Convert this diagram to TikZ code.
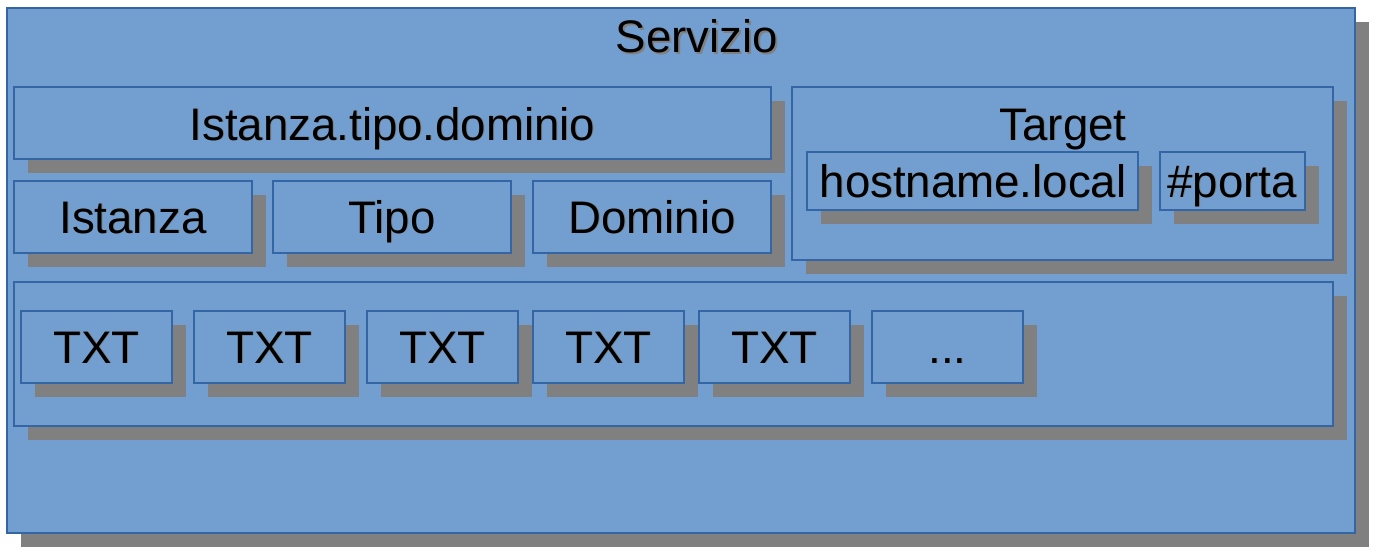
\documentclass[tikz,border=0pt]{standalone}
\usepackage{fontspec}
\setmainfont{Liberation Sans}
\usetikzlibrary{shadows}
\definecolor{boxfill}{HTML}{729FCF}
\definecolor{boxline}{HTML}{3465A4}
\definecolor{shadowgray}{HTML}{808080}
\tikzset{
  box/.style={draw=boxline, fill=boxfill, line width=0.9pt, rectangle, inner sep=0pt, outer sep=0pt,
    drop shadow={shadow xshift=10.5pt, shadow yshift=-10.5pt, fill=shadowgray, opacity=1}},
  lbl/.style={font=\fontsize{34.2}{40}\selectfont, inner sep=0pt, anchor=base, text=black},
  lblsh/.style={lbl, text=black!50}
}
\newcommand\mybox[5]{\node[box, minimum width={(#4-#2)*0.75pt}, minimum height={(#5-#3)*0.75pt}] (#1) at ({(#2+#4)/2},{(#3+#5)/2}) {};}
\newcommand\mylabel[4]{\node[lblsh] (#1s) at (#2+0.8,#3+0.8) {#4};\node[lbl] (#1) at (#2,#3) {#4};}
\begin{document}
\begin{tikzpicture}[x=0.75pt,y=-0.75pt]
\useasboundingbox (0,0) rectangle (1377,558);
\mybox{servizio}{7}{8}{1355}{533}
\node[lblsh] (tservizios) at (699,54) {Servizio};
\node[lbl] (tservizio) at (697,52) {Servizio};
\mybox{itd}{14}{87}{771}{159}
\mylabel{titd}{392.5}{140}{Istanza.tipo.dominio}
\mybox{istanza}{14}{181}{252}{253}
\mylabel{tistanza}{133}{233}{Istanza}
\mybox{tipo}{273}{181}{511}{253}
\mylabel{ttipo}{392}{233}{Tipo}
\mybox{dominio}{533}{181}{771}{253}
\mylabel{tdominio}{652}{233}{Dominio}
\mybox{target}{792}{87}{1333}{260}
\mylabel{ttarget}{1063}{140}{Target}
\mybox{host}{807}{152}{1138}{210}
\mylabel{thost}{973}{197}{hostname.local}
\mybox{porta}{1160}{152}{1305}{210}
\mylabel{tporta}{1232}{197}{\#porta}
\mybox{txtc}{14}{282}{1333}{426}
\mybox{txta}{21}{311}{172}{383}
\mylabel{ttxta}{96.5}{363}{TXT}
\mybox{txtb}{194}{311}{345}{383}
\mylabel{ttxtb}{269.5}{363}{TXT}
\mybox{txtcc}{367}{311}{518}{383}
\mylabel{ttxtcc}{442.5}{363}{TXT}
\mybox{txtd}{533}{311}{684}{383}
\mylabel{ttxtd}{608.5}{363}{TXT}
\mybox{txte}{699}{311}{850}{383}
\mylabel{ttxte}{774.5}{363}{TXT}
\mybox{dots}{872}{311}{1023}{383}
\mylabel{tdots}{947.5}{363}{...}
\end{tikzpicture}
\end{document}
